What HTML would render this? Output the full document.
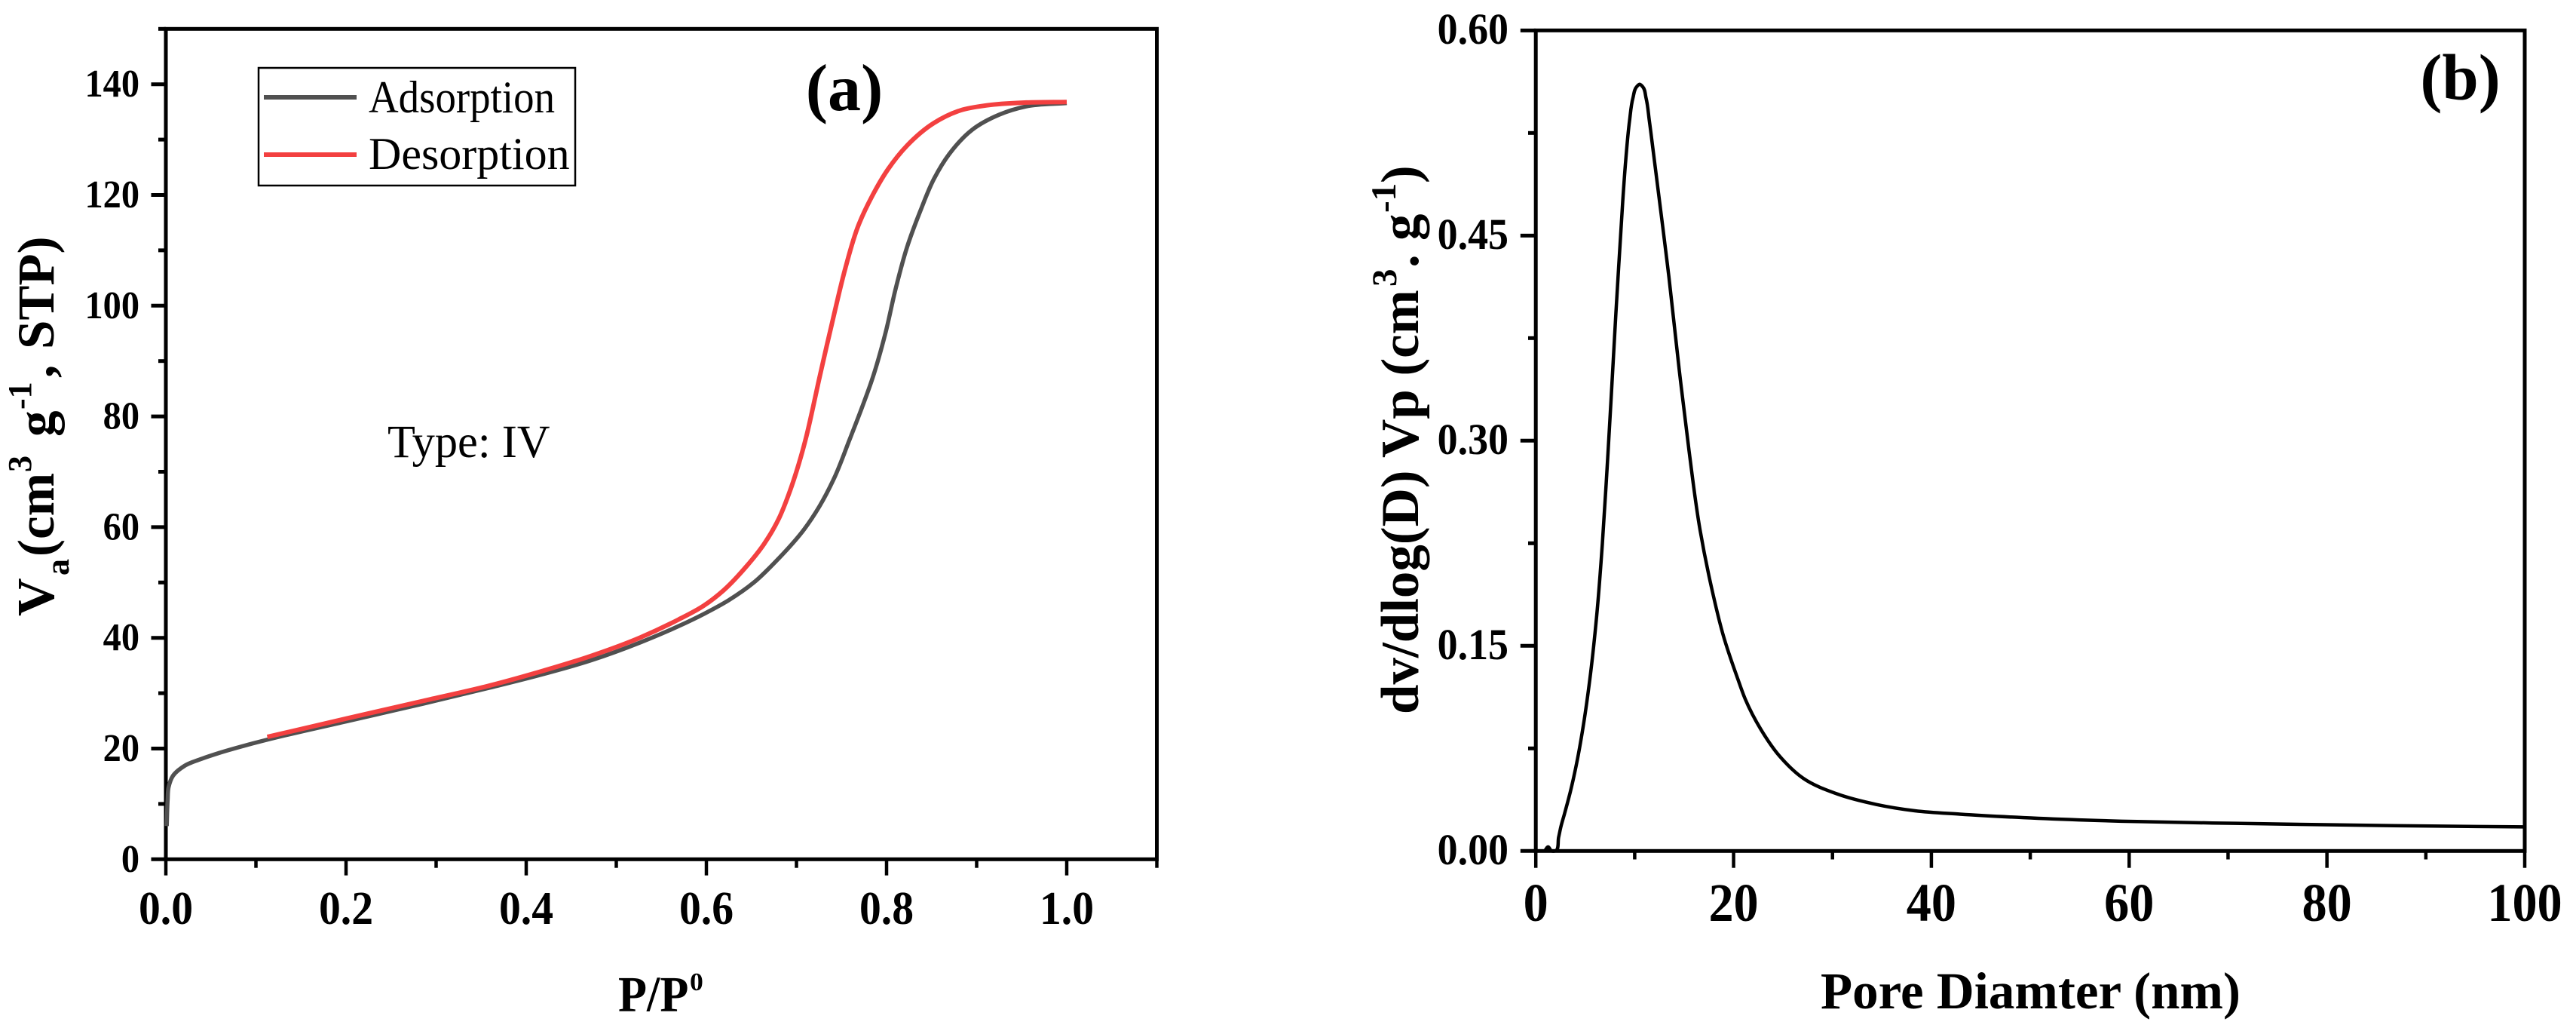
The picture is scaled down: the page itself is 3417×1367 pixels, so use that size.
<!DOCTYPE html>
<html lang="en">
<head>
<meta charset="utf-8">
<title>Nitrogen adsorption isotherm and pore size distribution</title>
<style>
html,body{margin:0;padding:0;background:#fff;}
svg{display:block;}
text{font-family:"Liberation Serif",serif;fill:#000;}
.b{font-weight:bold;}
</style>
</head>
<body>
<svg id="figure" xmlns="http://www.w3.org/2000/svg" width="3417" height="1367" viewBox="0 0 3417 1367">
  <rect x="0" y="0" width="3417" height="1367" fill="#fff"/>
  <g id="panel-a"></g>
  <g id="panel-b"></g>

  <g>
    <rect x="343" y="90" width="420" height="156" fill="none" stroke="#000" stroke-width="2.5"/>
    <line x1="350" y1="129" x2="473" y2="129" stroke="#505050" stroke-width="6"/>
    <text transform="translate(489,149) scale(0.915,1)" font-size="60">Adsorption</text>
    <line x1="350" y1="205" x2="473" y2="205" stroke="#f34040" stroke-width="6"/>
    <text transform="translate(489,224) scale(1,1)" font-size="60">Desorption</text>
  </g>

  <text class="b" x="1120" y="146" font-size="88" text-anchor="middle">(a)</text>
  <text class="b" x="3263.6" y="132" font-size="87" text-anchor="middle">(b)</text>
  <text transform="translate(514,606) scale(0.99,1)" font-size="61">Type: IV</text>

  <g>
    <text class="b" transform="translate(820,1340.7) scale(0.93,1)" font-size="67">P/P</text>
    <text class="b" transform="translate(915,1313) scale(1.05,1)" font-size="34">0</text>
  </g>

  <text class="b" transform="rotate(-90)" font-size="69"><tspan x="-817" y="71" font-size="70">V</tspan><tspan x="-763" y="91" font-size="44">a</tspan><tspan x="-738" y="71">(cm</tspan><tspan x="-626" y="41" font-size="44">3</tspan> <tspan x="-579" y="71">g</tspan><tspan x="-543" y="41" font-size="44">-1</tspan><tspan x="-501" y="71">,</tspan> <tspan x="-463" y="71">STP)</tspan></text>

  <text class="b" transform="translate(2415,1337) scale(1,1)" font-size="69">Pore Diamter (nm)</text>

  <text class="b" transform="rotate(-90)" font-size="71"><tspan x="-947" y="1881">dv/dlog(D) Vp (cm</tspan><tspan x="-380" y="1852" font-size="47">3</tspan><tspan x="-355" y="1881">.</tspan> <tspan x="-319" y="1881">g</tspan><tspan x="-282" y="1851" font-size="47">-1</tspan><tspan x="-243" y="1881">)</tspan></text>
</svg>

<script>
// ---- Panel (a) data: N2 adsorption / desorption isotherm ----
const aMajorX = [0, 0.2, 0.4, 0.6, 0.8, 1.0];
const aMinorX = [0.1, 0.3, 0.5, 0.7, 0.9, 1.1];
const aMajorXLabels = ['0.0', '0.2', '0.4', '0.6', '0.8', '1.0'];
const aMajorY = [0, 20, 40, 60, 80, 100, 120, 140];
const aMinorY = [10, 30, 50, 70, 90, 110, 130, 150];
const aMajorYLabels = ['0', '20', '40', '60', '80', '100', '120', '140'];

const adsorptionP = [0.001, 0.002, 0.003, 0.008, 0.021, 0.038, 0.059, 0.089, 0.1126, 0.2, 0.2855, 0.3598, 0.4156, 0.4714, 0.5272, 0.569, 0.597, 0.6248, 0.6527, 0.6806, 0.7085, 0.7253, 0.742, 0.7587, 0.7727, 0.7838, 0.799, 0.81, 0.8226, 0.8377, 0.8526, 0.8696, 0.8952, 0.925, 0.955, 1.0];
const adsorptionV = [6, 10.8, 13, 15.1, 16.9, 18.05, 19.2, 20.6, 21.6, 24.9, 28.1, 31, 33.3, 35.9, 39.2, 42.1, 44.3, 46.8, 50, 54.4, 59.6, 63.7, 68.9, 75.7, 81.6, 86.6, 95.2, 103, 110.5, 117.2, 122.9, 127.4, 131.8, 134.5, 136, 136.6];

const desorptionP = [0.1126, 0.2, 0.2855, 0.36, 0.4156, 0.4714, 0.5272, 0.569, 0.597, 0.6192, 0.6444, 0.6638, 0.6806, 0.6918, 0.7029, 0.7113, 0.7183, 0.7247, 0.7286, 0.7417, 0.7543, 0.769, 0.784, 0.8014, 0.8226, 0.8526, 0.8824, 0.912, 0.955, 1.0];
const desorptionV = [22.1, 25.4, 28.6, 31.4, 33.9, 36.7, 40.1, 43.3, 45.8, 48.6, 52.9, 56.9, 61.6, 66.1, 71.6, 76.6, 81.6, 86.4, 89.2, 98.4, 106.8, 114.6, 119.8, 124.6, 128.9, 133, 135.3, 136.2, 136.7, 136.8];

// ---- Panel (b) data: pore size distribution ----
const bMajorX = [0, 20, 40, 60, 80, 100];
const bMinorX = [10, 30, 50, 70, 90];
const bMajorXLabels = ['0', '20', '40', '60', '80', '100'];
const bMajorY = [0, 0.15, 0.30, 0.45, 0.60];
const bMinorY = [0.075, 0.225, 0.375, 0.525];
const bMajorYLabels = ['0.00', '0.15', '0.30', '0.45', '0.60'];

const poreDiameter = [0.9, 1.25, 1.6, 1.967, 2.31, 2.54, 2.88, 3.49, 4.22, 4.83, 5.47, 6.16, 6.73, 7.19, 7.61, 8.10, 8.37, 8.79, 9.09, 9.48, 9.82, 10.2, 10.5, 10.81, 11.15, 11.48, 11.87, 12.83, 13.44, 14.51, 15.5, 16.6, 17.75, 18.97, 20.42, 21.18, 22.75, 24.68, 27.05, 30.55, 34.44, 38.33, 42.9, 50.8, 60.8, 70.7, 80.6, 90.6, 100];
const poreVolume = [0, 0.003, 0, 0, 0.0101, 0.0178, 0.0266, 0.0432, 0.0674, 0.0928, 0.1259, 0.1722, 0.2246, 0.2776, 0.33, 0.3934, 0.4259, 0.475, 0.5047, 0.534, 0.5505, 0.5588, 0.5606, 0.5588, 0.5505, 0.534, 0.5119, 0.4568, 0.4209, 0.3514, 0.2924, 0.2351, 0.1932, 0.1573, 0.1259, 0.111, 0.089, 0.0691, 0.0531, 0.0415, 0.034, 0.0294, 0.0269, 0.0239, 0.0215, 0.0202, 0.0191, 0.0182, 0.0176];

const SVGNS = 'http://www.w3.org/2000/svg';

function xA(v) { return 220 + v * 1195; }
function yA(v) { return 1139.3 - v * 7.34; }
function xB(v) { return 2037.2 + v * 13.118; }
function yB(v) { return 1128.3 - v * 1813.3; }

function mk(parent, tag, attrs) {
  const el = document.createElementNS(SVGNS, tag);
  for (const k in attrs) el.setAttribute(k, attrs[k]);
  parent.appendChild(el);
  return el;
}

function smoothPath(xs, ys, fx, fy) {
  const p = xs.map((x, i) => [fx(x), fy(ys[i])]);
  const dist = (a, b) => Math.hypot(b[0] - a[0], b[1] - a[1]) || 1;
  const tangent = function (i) {
    if (i === 0 || i === p.length - 1) {
      const a = p[Math.max(i - 1, 0)], b = p[Math.min(i + 1, p.length - 1)], d = dist(a, b);
      return [(b[0] - a[0]) / d, (b[1] - a[1]) / d];
    }
    const d0 = dist(p[i - 1], p[i]), d1 = dist(p[i], p[i + 1]);
    const tx = ((p[i][0] - p[i - 1][0]) / d0 * d1 + (p[i + 1][0] - p[i][0]) / d1 * d0) / (d0 + d1);
    const ty = ((p[i][1] - p[i - 1][1]) / d0 * d1 + (p[i + 1][1] - p[i][1]) / d1 * d0) / (d0 + d1);
    return [tx, ty];
  };
  let d = 'M' + p[0][0].toFixed(2) + ' ' + p[0][1].toFixed(2);
  for (let i = 0; i < p.length - 1; i++) {
    const len = dist(p[i], p[i + 1]) / 3, t1 = tangent(i), t2 = tangent(i + 1);
    d += 'C' + (p[i][0] + t1[0] * len).toFixed(2) + ' ' + (p[i][1] + t1[1] * len).toFixed(2) + ' ' + (p[i + 1][0] - t2[0] * len).toFixed(2) + ' ' + (p[i + 1][1] - t2[1] * len).toFixed(2) + ' ' + p[i + 1][0].toFixed(2) + ' ' + p[i + 1][1].toFixed(2);
  }
  return d;
}

function drawPanel(g, cfg) {
  const left = cfg.fx(cfg.xMin), right = cfg.fx(cfg.xMax), top = cfg.fy(cfg.yMax), bottom = cfg.fy(0);

  const frame = mk(g, 'rect', {x: left, y: top, width: right - left, height: bottom - top, fill: 'none', stroke: '#000', 'stroke-width': 5});
  
  

  cfg.majorX.forEach(function (v, i) {
    const x = cfg.fx(v);
    const tick = mk(g, 'line', {x1: x, y1: bottom, x2: x, y2: cfg.xMajorEnd, stroke: '#000', 'stroke-width': 4.5});
    
    
    const label = mk(g, 'text', {transform: 'translate(' + x + ',' + cfg.xLabelY + ') scale(' + cfg.xLabelSx + ',1)', 'font-size': cfg.xLabelSize, 'font-weight': 'bold', 'text-anchor': 'middle'});
    label.textContent = cfg.xLabels[i];
    
    
  });
  cfg.minorX.forEach(function (v) {
    const x = cfg.fx(v);
    const tick = mk(g, 'line', {x1: x, y1: bottom, x2: x, y2: cfg.xMinorEnd, stroke: '#000', 'stroke-width': 4.5});
    
    
  });
  cfg.majorY.forEach(function (v, i) {
    const y = cfg.fy(v);
    const tick = mk(g, 'line', {x1: left, y1: y, x2: cfg.yMajorEnd, y2: y, stroke: '#000', 'stroke-width': 5});
    
    
    const label = mk(g, 'text', {transform: 'translate(' + cfg.yLabelX + ',' + (y + cfg.yLabelDy) + ') scale(' + cfg.yLabelSx + ',1)', 'font-size': cfg.yLabelSize, 'font-weight': 'bold', 'text-anchor': 'end'});
    label.textContent = cfg.yLabels[i];
    
    
  });
  cfg.minorY.forEach(function (v) {
    const y = cfg.fy(v);
    const tick = mk(g, 'line', {x1: left, y1: y, x2: cfg.yMinorEnd, y2: y, stroke: '#000', 'stroke-width': 5});
    
    
  });
}

const gA = document.getElementById('panel-a');
const gB = document.getElementById('panel-b');

drawPanel(gA, {
  fx: xA, fy: yA, xMin: 0, xMax: 1.1, yMax: 150,
  majorX: aMajorX, minorX: aMinorX, xLabels: aMajorXLabels,
  majorY: aMajorY, minorY: aMinorY, yLabels: aMajorYLabels,
  xMajorEnd: 1160.7, xMinorEnd: 1150.7, yMajorEnd: 200.5, yMinorEnd: 210,
  xLabelY: 1225, xLabelSize: 62, xLabelSx: 0.93,
  yLabelX: 185, yLabelDy: 16.5, yLabelSize: 52, yLabelSx: 0.93
});

drawPanel(gB, {
  fx: xB, fy: yB, xMin: 0, xMax: 100, yMax: 0.6,
  majorX: bMajorX, minorX: bMinorX, xLabels: bMajorXLabels,
  majorY: bMajorY, minorY: bMinorY, yLabels: bMajorYLabels,
  xMajorEnd: 1150.7, xMinorEnd: 1139.5, yMajorEnd: 2016.8, yMinorEnd: 2027,
  xLabelY: 1221, xLabelSize: 72, xLabelSx: 0.92,
  yLabelX: 2001, yLabelDy: 17.5, yLabelSize: 58, yLabelSx: 0.93
});

const adsLine = mk(gA, 'path', {d: smoothPath(adsorptionP, adsorptionV, xA, yA), fill: 'none', stroke: '#505050', 'stroke-width': 5.5, 'stroke-linejoin': 'round'});



const desLine = mk(gA, 'path', {d: smoothPath(desorptionP, desorptionV, xA, yA), fill: 'none', stroke: '#f34040', 'stroke-width': 6, 'stroke-linejoin': 'round'});



const poreLine = mk(gB, 'path', {d: smoothPath(poreDiameter, poreVolume, xB, yB), fill: 'none', stroke: '#000', 'stroke-width': 4.5, 'stroke-linejoin': 'round'});


</script>
</body>
</html>
